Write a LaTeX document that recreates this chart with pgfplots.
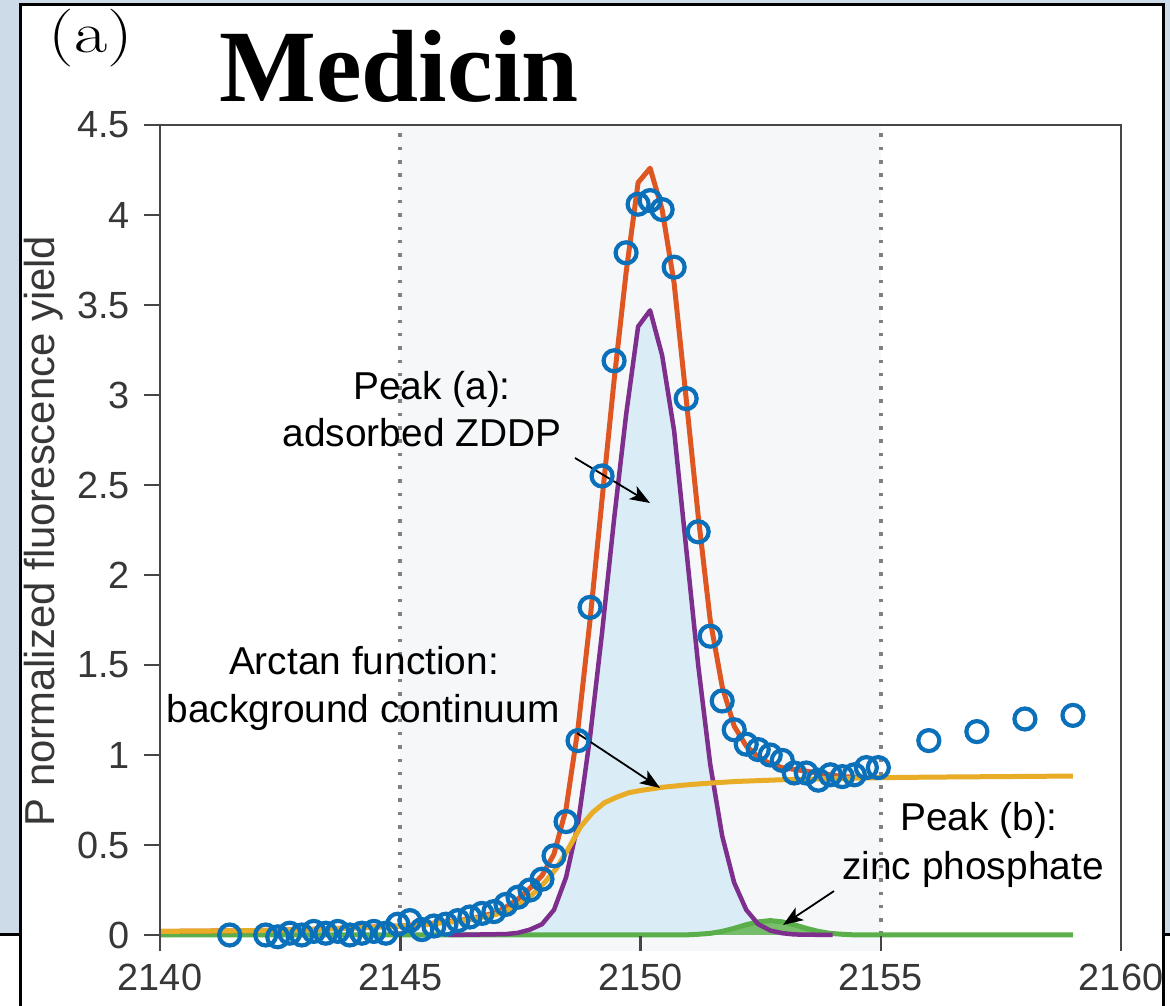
\documentclass[border=0pt]{standalone}
\usepackage{pgfplots}
\pgfplotsset{compat=1.18}
\usepackage{pgfplotstable}
\usepackage{fontspec}
\newfontfamily\sans{Liberation Sans}
\newfontfamily\titlefont{Liberation Serif}
\usetikzlibrary{arrows.meta}

\definecolor{bgblue}{RGB}{205,218,232}
\definecolor{cblue}{RGB}{10,112,186}
\definecolor{corange}{RGB}{222,86,34}
\definecolor{cpurple}{RGB}{126,47,142}
\definecolor{cyellow}{RGB}{232,172,38}
\definecolor{cgreen}{RGB}{90,175,75}
\definecolor{cfill}{RGB}{218,237,246}
\definecolor{cgfill}{RGB}{108,184,92}
\definecolor{cband}{RGB}{246,247,248}
\definecolor{spine}{RGB}{70,70,70}
\definecolor{tickgray}{RGB}{55,55,55}
\definecolor{dotgray}{RGB}{128,128,128}

\pgfplotstableread{
x y
2141.45 0.00
2142.20 0.00
2142.45 -0.01
2142.70 0.01
2142.95 0.00
2143.20 0.02
2143.45 0.01
2143.70 0.02
2143.95 0.00
2144.20 0.01
2144.45 0.02
2144.70 0.01
2144.95 0.06
2145.20 0.08
2145.45 0.03
2145.70 0.05
2145.95 0.06
2146.20 0.08
2146.45 0.10
2146.70 0.12
2146.95 0.13
2147.20 0.17
2147.45 0.21
2147.70 0.25
2147.95 0.31
2148.20 0.44
2148.45 0.63
2148.70 1.08
2148.95 1.82
2149.20 2.55
2149.45 3.19
2149.70 3.79
2149.95 4.06
2150.20 4.08
2150.45 4.03
2150.70 3.71
2150.95 2.98
2151.20 2.24
2151.45 1.66
2151.70 1.30
2151.95 1.14
2152.20 1.06
2152.45 1.03
2152.70 1.00
2152.95 0.97
2153.20 0.90
2153.45 0.90
2153.70 0.86
2153.95 0.89
2154.20 0.88
2154.45 0.89
2154.70 0.93
2154.95 0.93
2156.00 1.08
2157.00 1.13
2158.00 1.20
2159.00 1.22
}\datatab

\pgfplotstableread{
x y
2146.00 0
2147.20 0.005
2147.45 0.012
2147.70 0.03
2147.95 0.06
2148.20 0.14
2148.45 0.32
2148.70 0.62
2148.95 1.10
2149.20 1.68
2149.45 2.31
2149.70 2.89
2149.95 3.38
2150.20 3.47
2150.45 3.22
2150.70 2.80
2150.95 2.15
2151.20 1.50
2151.45 0.95
2151.70 0.55
2151.95 0.29
2152.20 0.14
2152.45 0.06
2152.70 0.025
2152.95 0.01
2153.20 0.003
2154.00 0
}\peaka

\pgfplotstableread{
x y
2140.00 0
2150.90 0
2151.20 0.004
2151.45 0.009
2151.70 0.02
2151.95 0.037
2152.20 0.057
2152.45 0.073
2152.70 0.080
2152.95 0.073
2153.20 0.057
2153.45 0.037
2153.70 0.02
2153.95 0.009
2154.20 0.004
2154.50 0
2159.00 0
}\peakb

\pgfplotstableread{
x y
2140.0 0.020
2141.0 0.022
2142.0 0.025
2143.0 0.030
2144.0 0.038
2145.0 0.050
2145.5 0.058
2146.0 0.070
2146.5 0.088
2147.0 0.115
2147.25 0.140
2147.5 0.175
2147.75 0.225
2148.0 0.290
2148.25 0.370
2148.5 0.480
2148.75 0.600
2149.0 0.680
2149.25 0.735
2149.5 0.765
2149.75 0.790
2150.0 0.803
2150.5 0.822
2151.0 0.835
2151.5 0.845
2152.0 0.853
2153.0 0.863
2154.0 0.869
2155.0 0.874
2156.0 0.877
2157.0 0.879
2158.0 0.881
2159.0 0.883
}\arctanbg

\pgfplotstableread{
x y
2140.00 0.020
2141.00 0.022
2142.00 0.025
2143.00 0.030
2144.00 0.040
2145.00 0.050
2145.50 0.060
2146.00 0.075
2146.50 0.090
2147.00 0.125
2147.20 0.155
2147.45 0.200
2147.70 0.260
2147.95 0.330
2148.20 0.450
2148.45 0.700
2148.70 1.150
2148.95 1.750
2149.20 2.420
2149.45 3.080
2149.70 3.680
2149.95 4.180
2150.20 4.260
2150.45 4.030
2150.70 3.620
2150.95 2.980
2151.20 2.330
2151.45 1.750
2151.70 1.380
2151.95 1.160
2152.20 1.050
2152.45 0.990
2152.70 0.950
2152.95 0.930
2153.20 0.920
2153.45 0.910
2153.70 0.900
2153.95 0.890
2154.20 0.880
2154.45 0.877
2154.70 0.875
2154.95 0.875
}\fit

\begin{document}
\begin{tikzpicture}[x=1bp,y=1bp]
\useasboundingbox (0,0) rectangle (1170,1006);
\fill[bgblue] (0,0) rectangle (1170,1006);
\fill[white] (0,0) rectangle (20,71);
\draw[black, line width=3bp] (0,71) -- (20,71);
\fill[white] (1163,0) rectangle (1170,71);
\draw[black, line width=3bp] (1163,71) -- (1170,71);
\filldraw[fill=white, draw=black, line width=3bp] (20,-10) rectangle (1163,1001);

\begin{axis}[
  at={(160bp,54.8bp)}, anchor=south west,
  scale only axis, width=961bp, height=826.2bp,
  xmin=2140, xmax=2160, ymin=-0.09, ymax=4.5,
  clip=false, axis on top,
  axis line style={draw=none},
  xtick={2140,2145,2150,2155,2160},
  xticklabels={2140,2145,2150,2155,2160},
  ytick={0,0.5,1,1.5,2,2.5,3,3.5,4,4.5},
  yticklabels={0,0.5,1,1.5,2,2.5,3,3.5,4,4.5},
  xtick pos=bottom, ytick pos=left,
  tick align=inside,
  major tick length=15bp,
  tick style={spine, line width=2.5bp},
  ytick style={xshift=-16bp},
  xticklabel style={font=\sans\fontsize{38}{38}\selectfont, text=tickgray, inner sep=0pt, anchor=north, yshift=-13bp},
  yticklabel style={font=\sans\fontsize{38}{38}\selectfont, text=tickgray, inner sep=0pt, anchor=east, xshift=-30bp},
]
\fill[cband] (axis cs:2145,-0.09) rectangle (axis cs:2155,4.5);
\draw[dotgray, line width=4bp, dash pattern=on 3.5bp off 9.8bp] (axis cs:2145,0) -- (axis cs:2145,4.49);
\draw[dotgray, line width=4bp, dash pattern=on 3.5bp off 9.8bp] (axis cs:2155,0) -- (axis cs:2155,4.49);

\addplot[draw=none, fill=cfill] table[x=x,y=y] {\peaka} \closedcycle;
\addplot[draw=none, fill=cgfill, fill opacity=0.9] table[x=x,y=y] {\peakb} \closedcycle;

\addplot[only marks, mark=o, mark size=10.5bp, mark options={cblue, line width=4.2bp}] table[x=x,y=y] {\datatab};

\addplot[cgreen, line width=5bp, line join=round] table[x=x,y=y] {\peakb};
\addplot[cpurple, line width=4.5bp, line join=round] table[x=x,y=y] {\peaka};
\addplot[corange, line width=5bp, line join=round] table[x=x,y=y] {\fit};
\addplot[cyellow, line width=5bp, line join=round] table[x=x,y=y] {\arctanbg};

\draw[spine, line width=2.5bp] (axis cs:2140,-0.09) -- (axis cs:2140,4.5) -- (axis cs:2160,4.5) -- (axis cs:2160,-0.09);

\draw[black, line width=1.8bp, -{Stealth[length=20bp,width=15bp,inset=5bp]}] (axis cs:2148.637,2.650) -- (axis cs:2150.198,2.400);
\draw[black, line width=1.8bp, -{Stealth[length=20bp,width=15bp,inset=5bp]}] (axis cs:2148.678,1.122) -- (axis cs:2150.406,0.817);
\draw[black, line width=1.8bp, -{Stealth[length=20bp,width=15bp,inset=5bp]}] (axis cs:2154.027,0.244) -- (axis cs:2152.966,0.056);
\end{axis}

\node[anchor=base, inner sep=0pt, font=\fontsize{58}{58}\selectfont] at (91,953) {\scalebox{1.25}[1]{(a)}};
\node[anchor=base, inner sep=0pt, font=\titlefont\bfseries\fontsize{103}{103}\selectfont] at (399,904) {Medicin};
\node[anchor=base, rotate=90, inner sep=0pt, text=tickgray, font=\sans\fontsize{42}{42}\selectfont] at (54,475) {P normalized fluorescence yield};

\begin{scope}[every node/.style={anchor=base, inner sep=0pt, font=\sans\fontsize{39}{39}\selectfont, text=black}]
\node at (432,606) {Peak (a):};
\node at (422,559) {adsorbed ZDDP};
\node at (364,331) {Arctan function:};
\node at (363,283) {background continuum};
\node at (979,175) {Peak (b):};
\node at (973,126) {zinc phosphate};
\end{scope}
\end{tikzpicture}
\end{document}
